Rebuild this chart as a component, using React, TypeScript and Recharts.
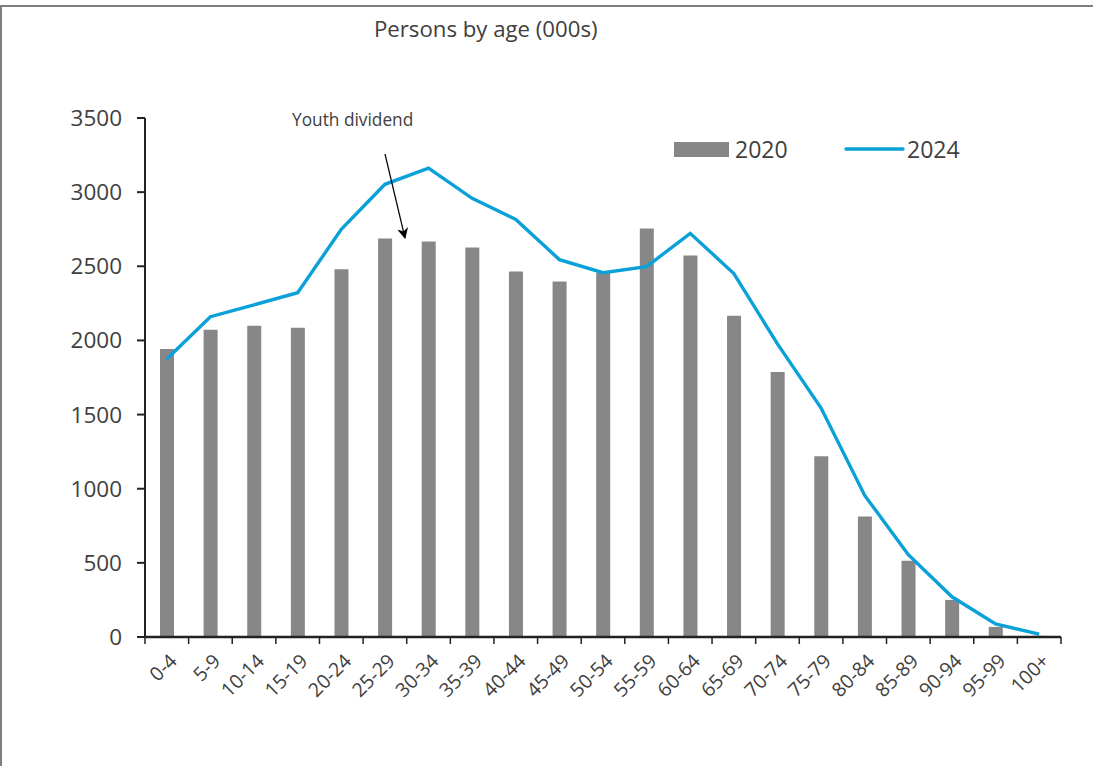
import React from "react";
import { ComposedChart, Bar, Line, XAxis, YAxis } from "recharts";

const ageGroups = ["0-4","5-9","10-14","15-19","20-24","25-29","30-34","35-39","40-44","45-49","50-54","55-59","60-64","65-69","70-74","75-79","80-84","85-89","90-94","95-99","100+"];
const persons2020 = [1943,2072,2099,2085,2480,2688,2667,2627,2464,2397,2457,2755,2573,2166,1787,1219,812,515,250,68,8];
const persons2024 = [1875,2160,2240,2322,2749,3053,3162,2958,2816,2545,2457,2498,2722,2451,1977,1544,955,555,271,88,20];
const yTicks = [0,500,1000,1500,2000,2500,3000,3500];

const data = ageGroups.map((g, i) => ({ age: g, y2020: persons2020[i], y2024: persons2024[i] }));

const FONT = "'Open Sans', 'Noto Sans', sans-serif";
const TEXT = "#404040";
const GREY = "#878787";
const BLUE = "#0aa0d8";
const AXIS = "#222222";

const W = 1093;
const H = 766;
const M = { top: 118, right: 32, bottom: 69, left: 0 };
const YW = 145;

const XTick = (props: any) => {
  const { x, y, payload, index } = props;
  const fallback = (W - M.right - YW) / ageGroups.length / 2;
  const off = payload && typeof payload.offset === "number" && payload.offset > 0 ? payload.offset : fallback;
  return (
    <g>
      <line x1={x - off} y1={y} x2={x - off} y2={y + 7} stroke={AXIS} strokeWidth={1.5} />
      {index === ageGroups.length - 1 && (
        <line x1={x + off} y1={y} x2={x + off} y2={y + 7} stroke={AXIS} strokeWidth={1.5} />
      )}
      <g transform={`translate(${x + 7},${y + 21})`}>
        <text transform="rotate(-45)" textAnchor="end" fontSize={19.5} fill={TEXT} fontFamily={FONT} dy={6}>
          {payload.value}
        </text>
      </g>
    </g>
  );
};

export default function App() {
  return (
    <div style={{ position: "absolute", left: 0, top: 0, width: W, height: H, background: "#fff", overflow: "hidden" }}>
      <div style={{ position: "absolute", left: 0, top: 5, width: W, height: H - 5, borderTop: "2px solid #7f7f7f", borderLeft: "2px solid #7f7f7f", boxSizing: "border-box" }} />
      <ComposedChart width={W} height={H} data={data} margin={M} barCategoryGap={0}>
        <YAxis
          domain={[0, 3500]}
          ticks={yTicks}
          width={YW}
          axisLine={{ stroke: AXIS, strokeWidth: 2 }}
          tickLine={{ stroke: AXIS, strokeWidth: 2 }}
          tickSize={8}
          tickMargin={15}
          tick={{ fontSize: 22.5, fill: TEXT, fontFamily: FONT }}
          interval={0}
        />
        <XAxis
          dataKey="age"
          height={60}
          axisLine={{ stroke: AXIS, strokeWidth: 2.5 }}
          tickLine={false}
          tickSize={0}
          tickMargin={0}
          interval={0}
          tick={<XTick />}
        />
        <Bar dataKey="y2020" fill={GREY} barSize={14} isAnimationActive={false} />
        <Line dataKey="y2024" stroke={BLUE} strokeWidth={3.4} dot={false} activeDot={false} type="linear" isAnimationActive={false} />
      </ComposedChart>
      <div style={{ position: "absolute", left: 374, top: 14, fontFamily: FONT, fontSize: 22.2, color: TEXT, whiteSpace: "nowrap", lineHeight: "30px" }}>
        Persons by age (000s)
      </div>
      <div style={{ position: "absolute", left: 292, top: 108, fontFamily: FONT, fontSize: 17.3, color: TEXT, whiteSpace: "nowrap", lineHeight: "24px" }}>
        Youth dividend
      </div>
      <svg style={{ position: "absolute", left: 0, top: 0 }} width={W} height={H}>
        <defs>
          <marker id="arr" viewBox="0 0 10 10" refX="9" refY="5" markerWidth="11" markerHeight="11" markerUnits="userSpaceOnUse" orient="auto">
            <path d="M0,0 L10,5 L0,10 L3,5 z" fill="#000" />
          </marker>
        </defs>
        <line x1={385} y1={154} x2={405} y2={238} stroke="#000" strokeWidth={1.2} markerEnd="url(#arr)" />
        <rect x={674} y={142} width={55} height={15} fill={GREY} />
        <text x={735} y={158} fontFamily={FONT} fontSize={23} fill={TEXT}>2020</text>
        <line x1={846} y1={149} x2={903} y2={149} stroke={BLUE} strokeWidth={3.4} strokeLinecap="round" />
        <text x={907} y={158} fontFamily={FONT} fontSize={23} fill={TEXT}>2024</text>
      </svg>
    </div>
  );
}
